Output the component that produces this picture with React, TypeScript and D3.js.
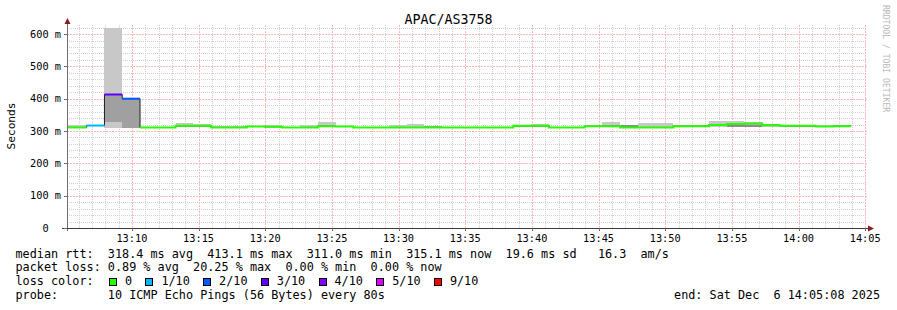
import React from 'react';
import * as d3 from 'd3';

// ---- data ----
const START = Date.UTC(2025, 11, 6, 13, 5, 8);
const END = Date.UTC(2025, 11, 6, 14, 5, 8);
const FIRST_STEP_END = START + 88600;
const STEP_MS = 80000;

const medians = [311, 317, 413, 400, 311, 311, 316, 316, 311, 311, 314, 313, 311, 311, 315, 314, 311, 311, 311, 311, 311, 311,
  311, 311, 311, 316, 316, 311, 311, 315, 315, 311, 311, 311, 315, 315, 319, 322, 323, 318, 316, 316, 314, 315];
const lostPings = [0, 1, 3, 2, 0, 0, 0, 0, 0, 0, 0, 0, 0, 0, 0, 0, 0, 0, 0, 0, 0, 0,
  0, 0, 0, 0, 0, 0, 0, 0, 0, 0, 0, 0, 0, 0, 0, 0, 0, 0, 0, 0, 0, 0];
const smokeMin = [310, 315, 310, 310, 310, 310, 311, 311, 310, 310, 311, 311, 310, 310, 311, 311, 310, 310, 310, 310, 310, 310,
  310, 310, 310, 311, 311, 310, 310, 311, 311, 310, 310, 310, 311, 311, 311, 311, 311, 311, 311, 311, 311, 311];
const smokeMax = [319, 318, 620, 400, 313, 314, 325, 322, 315, 315, 317, 319, 312, 320, 328, 316, 312, 312, 318, 321, 317, 312,
  312, 312, 312, 318, 322, 312, 312, 317, 327, 320, 325, 325, 320, 319, 330, 332, 328, 322, 318, 320, 318, 320];
const darkLo: (number | null)[] = [null, null, 329, 310, null, null, null, null, null, null, null, null, null, null, null, null, null, null, null, null, 311, null,
  null, null, null, null, null, null, null, null, null, 311, null, null, null, null, null, 314, 314, null, null, null, null, null];
const darkHi: (number | null)[] = [null, null, 411, 400, null, null, null, null, null, null, null, null, null, null, null, null, null, null, null, null, 316, null,
  null, null, null, null, null, null, null, null, null, 318, null, null, null, null, null, 319, 319, null, null, null, null, null];

const lossLevels = [0, 1, 2, 3, 4, 5, 9];
const lossColors = ['#26ff00', '#00b8ff', '#0059ff', '#5e00ff', '#7e00ff', '#dd00ff', '#ff0000'];
const lossLabels = ['0', '1/10', '2/10', '3/10', '4/10', '5/10', '9/10'];

const title = 'APAC/AS3758';
const yAxisTitle = 'Seconds';
const legendRows = [
  'median rtt:  318.4 ms avg  413.1 ms max  311.0 ms min  315.1 ms now  19.6 ms sd   16.3  am/s',
  'packet loss: 0.89 % avg  20.25 % max  0.00 % min  0.00 % now',
];
const lossRowLabel = 'loss color:';
const probeRow = 'probe:       10 ICMP Echo Pings (56 Bytes) every 80s';
const endText = 'end: Sat Dec  6 14:05:08 2025';
const watermark = 'RRDTOOL / TOBI OETIKER';

const MONO = '"DejaVu Sans Mono", monospace';

export default function App() {
  const W = 897, H = 310;
  const left = 67, right = 867, top = 25, bottom = 228;
  const x = d3.scaleUtc().domain([START, END]).range([left, right]);
  const y = d3.scaleLinear().domain([0, 628]).range([bottom, top]);

  const segs = medians.map((m, j) => {
    const t1 = FIRST_STEP_END + j * STEP_MS;
    const t0 = j === 0 ? START : t1 - STEP_MS;
    let ci = 0;
    lossLevels.forEach((lv, i) => { if (lostPings[j] >= lv) ci = i; });
    return { x0: x(t0), x1: x(t1), m, color: lossColors[ci] };
  });

  const minutes = d3.utcMinute.range(new Date(START), new Date(END + 1));
  const majorMinutes = minutes.filter((d) => d.getUTCMinutes() % 5 === 0);
  const minorMinutes = minutes.filter((d) => d.getUTCMinutes() % 5 !== 0);
  const yMinor = d3.range(20, 621, 20).filter((v) => v % 100 !== 0);
  const yMajor = d3.range(100, 601, 100);
  const yLabels = d3.range(0, 601, 100);

  let blackPath = '';
  segs.forEach((s, i) => {
    if (i === 0) blackPath += `M${s.x0},${y(s.m)}H${s.x1}`;
    else blackPath += `V${y(s.m)}H${s.x1}`;
  });

  const runs: { color: string; d: string }[] = [];
  segs.forEach((s, i) => {
    if (i > 0 && segs[i - 1].color === s.color) {
      runs[runs.length - 1].d += `V${y(s.m)}H${s.x1}`;
    } else {
      runs.push({ color: s.color, d: `M${s.x0},${y(s.m)}H${s.x1}` });
    }
  });

  const tf = d3.utcFormat('%H:%M');

  let lx = 109;
  const lossItems = lossLabels.map((lab, i) => {
    const item = { sx: lx, tx: lx + 16, lab, color: lossColors[i] };
    lx = lx + 16 + lab.length * 7.1 + 13.3;
    return item;
  });

  const px = (v: number) => Math.round(v) + 0.5;

  return (
    <svg width={W} height={H} style={{ position: 'absolute', left: 0, top: 0, background: '#fff' }}
      fontFamily={MONO}>
      <rect x={0} y={0} width={W} height={H} fill="#ffffff" />
      <g stroke="#d0d0d0" strokeWidth={1} strokeDasharray="1 1" fill="none">
        {minorMinutes.map((d, i) => (
          <path key={'vx' + i} d={`M${px(x(d))},${top}V${bottom}`} />
        ))}
        {yMinor.map((v) => (
          <path key={'hy' + v} d={`M${left},${px(y(v))}H${right}`} />
        ))}
      </g>
      <g stroke="#fbb8b8" strokeWidth={1} strokeDasharray="2 1" fill="none">
        {majorMinutes.map((d, i) => (
          <path key={'Vx' + i} d={`M${px(x(d))},${top}V${bottom}`} />
        ))}
        {yMajor.map((v) => (
          <path key={'Hy' + v} d={`M${left},${px(y(v))}H${right}`} />
        ))}
      </g>
      <g shapeRendering="crispEdges">
        {segs.map((s, j) => (
          <rect key={'sm' + j} x={s.x0} width={s.x1 - s.x0} y={y(smokeMax[j])} height={y(smokeMin[j]) - y(smokeMax[j])} fill="#c8c8c8" />
        ))}
        {segs.map((s, j) => darkLo[j] != null && darkHi[j] != null ? (
          <rect key={'dk' + j} x={s.x0} width={s.x1 - s.x0} y={y(darkHi[j] as number)} height={y(darkLo[j] as number) - y(darkHi[j] as number)} fill={j >= 30 ? '#8c8c8c' : '#a0a0a0'} />
        ) : null)}
      </g>
      <path d={blackPath} fill="none" stroke="#202020" strokeWidth={1} />
      {runs.map((r, i) => (
        <path key={'r' + i} d={r.d} fill="none" stroke={r.color} strokeWidth={2} />
      ))}
      <g shapeRendering="crispEdges">
        <line x1={left + 0.5} x2={left + 0.5} y1={bottom + 3} y2={21} stroke="#6e6e6e" />
        <line x1={62} x2={869} y1={bottom + 0.5} y2={bottom + 0.5} stroke="#3a3a3a" />
        {yLabels.map((v) => (
          <line key={'yt' + v} x1={left - 3} x2={left} y1={px(y(v))} y2={px(y(v))} stroke="#6e6e6e" />
        ))}
        {majorMinutes.map((d, i) => (
          <line key={'xt' + i} x1={px(x(d))} x2={px(x(d))} y1={bottom} y2={bottom + 3} stroke="#6e6e6e" />
        ))}
      </g>
      <path d={`M${left + 0.5},18 L${left - 2.5},24 L${left + 3.5},24 Z`} fill="#8b1c1c" />
      <path d={`M874,${bottom + 0.5} L868,${bottom - 2.5} L868,${bottom + 3.5} Z`} fill="#8b1c1c" />
      <g fontSize={10.3} fill="#000">
        {yLabels.map((v) => (
          <text key={'yl' + v} x={61} y={y(v) + 3.7} textAnchor="end" xmlSpace="preserve">{v === 0 ? '0  ' : `${v} m`}</text>
        ))}
        {majorMinutes.map((d, i) => (
          <text key={'xl' + i} x={x(d)} y={242} textAnchor="middle">{tf(d)}</text>
        ))}
      </g>
      <text x={448.5} y={24} textAnchor="middle" fontSize={13.3} fill="#000">{title}</text>
      <text transform="translate(15,126) rotate(-90)" textAnchor="middle" fontSize={11.2} fill="#000">{yAxisTitle}</text>
      <text transform="translate(883,5) rotate(90)" fontSize={8.1} fill="#b8b8b8">{watermark}</text>
      <g fontSize={11.8} fill="#000">
        <text x={15.5} y={257.5} xmlSpace="preserve">{legendRows[0]}</text>
        <text x={15.5} y={271} xmlSpace="preserve">{legendRows[1]}</text>
        <text x={15.5} y={285} xmlSpace="preserve">{lossRowLabel}</text>
        {lossItems.map((it, i) => (
          <g key={'li' + i}>
            <rect x={it.sx + 0.5} y={278.5} width={7} height={7} fill={it.color} stroke="#000" strokeWidth={1} shapeRendering="crispEdges" />
            <text x={it.tx} y={285}>{it.lab}</text>
          </g>
        ))}
        <text x={15.5} y={298.5} xmlSpace="preserve">{probeRow}</text>
        <text x={880} y={298.5} textAnchor="end" xmlSpace="preserve">{endText}</text>
      </g>
    </svg>
  );
}
